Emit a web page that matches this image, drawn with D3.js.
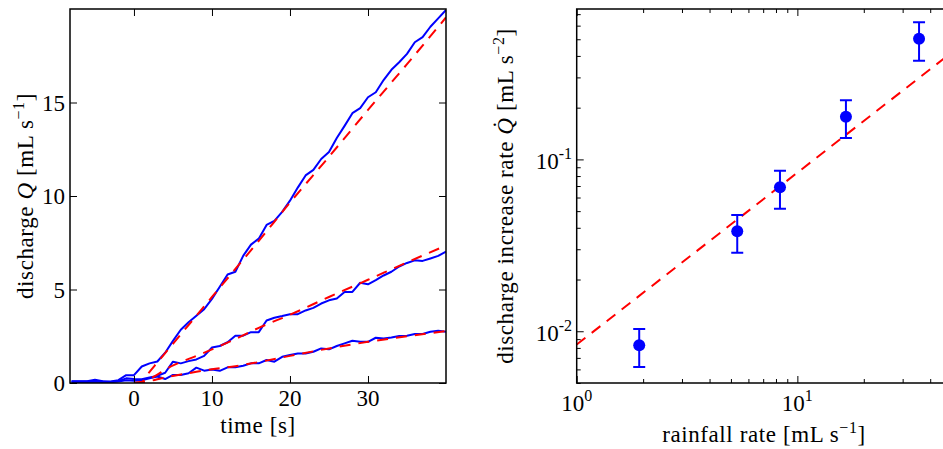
<!DOCTYPE html>
<html>
<head>
<meta charset="utf-8">
<script src="https://cdn.jsdelivr.net/npm/d3@7"></script>
<style>
  body { margin: 0; background: #fff; }
  text { font-family: "Liberation Serif", "Times New Roman", serif; fill: #000; }
  .title { letter-spacing: 0.6px; }
</style>
</head>
<body>
<script>
// ---- left panel data: discharge vs time (one sample per second)
var times = d3.range(-8, 41);
var qHigh = [0.1, 0.1, 0.1, 0.17, 0.1, 0.08, 0.15, 0.42, 0.42, 0.88, 1.05, 1.15, 1.62, 2.25, 2.85, 3.25, 3.6, 3.95,
  4.5, 5.15, 5.8, 5.95, 6.8, 7.4, 7.72, 8.45, 8.67, 9.15, 9.75, 10.45, 11.1, 11.4, 11.98, 12.35, 13.1, 13.75,
  14.43, 14.7, 15.28, 15.55, 16.2, 16.75, 17.15, 17.6, 18.22, 18.5, 19.05, 19.5, 19.95];
var qMid = [0.08, 0.08, 0.08, 0.1, 0.08, 0.05, 0.1, 0.25, 0.22, 0.2, 0.3, 0.38, 0.55, 1.14, 1.05, 1.17, 1.26, 1.45,
  1.9, 1.98, 2.18, 2.53, 2.53, 2.72, 2.72, 3.34, 3.49, 3.58, 3.68, 3.68, 3.88, 4.02, 4.25, 4.42, 4.52, 4.87,
  4.87, 5.36, 5.28, 5.5, 5.75, 5.95, 6.23, 6.42, 6.56, 6.53, 6.66, 6.8, 7.02];
var qLow = [0.05, 0.05, 0.06, 0.08, 0.05, 0.05, 0.08, 0.15, 0.12, 0.15, 0.25, 0.35, 0.21, 0.43, 0.43, 0.52, 0.82, 0.66,
  0.72, 0.65, 0.84, 0.84, 0.92, 1.05, 1.05, 1.23, 1.14, 1.4, 1.5, 1.58, 1.58, 1.67, 1.85, 1.8, 1.98, 2.12,
  2.26, 2.2, 2.2, 2.42, 2.38, 2.43, 2.51, 2.53, 2.62, 2.62, 2.74, 2.79, 2.74];

// fitted curves (red dashed)
var fitTimes = [0, 1, 2, 3, 4, 6, 8, 10, 13, 16, 20, 25, 30, 35, 40];
var fitHigh = [0, 0.05, 0.6, 1.1, 1.6, 2.6, 3.6, 4.6, 6.1, 7.6, 9.65, 12.1, 14.6, 17.05, 19.55];
var fitMid = [0, 0.05, 0.22, 0.45, 0.72, 1.12, 1.45, 1.8, 2.35, 2.95, 3.65, 4.6, 5.52, 6.45, 7.35];
var fitLow = [0, 0.02, 0.1, 0.2, 0.3, 0.45, 0.6, 0.73, 0.9, 1.12, 1.45, 1.85, 2.2, 2.5, 2.78];

var leftXTicks = [0, 10, 20, 30];
var leftYTicks = [0, 5, 10, 15];

// ---- right panel data: discharge increase rate vs rainfall rate
var rainRate = [1.92, 5.34, 8.34, 16.6, 35.6];
var incRate = [0.0083, 0.0382, 0.0688, 0.177, 0.503];
var incLow = [0.0062, 0.0286, 0.0517, 0.133, 0.375];
var incHigh = [0.0103, 0.0475, 0.0859, 0.221, 0.627];
var fitRain = [1, 50];
var fitRate = [0.00837, 0.4185];

var rightXTicks = [1, 10];
var rightYTicks = [0.01, 0.1];

var width = 943, height = 449;
var fontSize = 23, supSize = 16;
var tickLen = 7, minorLen = 4;

var svg = d3.select("body").append("svg")
  .attr("width", width)
  .attr("height", height);

var defs = svg.append("defs");

function ticksOnly(g, axis) {
  g.call(axis);
  g.select(".domain").remove();
  g.selectAll("text").remove();
  g.selectAll("line").attr("stroke", "#000").attr("stroke-width", 1);
}

// ================= left panel =================
var L = { left: 70, right: 446, top: 9, bottom: 383 };
var x = d3.scaleLinear().domain([-8.2, 40]).range([L.left, L.right]);
var y = d3.scaleLinear().domain([0, 20]).range([L.bottom, L.top]);

defs.append("clipPath").attr("id", "clipL").append("rect")
  .attr("x", L.left).attr("y", L.top)
  .attr("width", L.right - L.left).attr("height", L.bottom - L.top);

var gL = svg.append("g");
var plotL = gL.append("g").attr("clip-path", "url(#clipL)");

var line = d3.line()
  .x(function (d) { return x(d[0]); })
  .y(function (d) { return y(d[1]); });

[qHigh, qMid, qLow].forEach(function (s) {
  plotL.append("path")
    .datum(times.map(function (t, i) { return [t, s[i]]; }))
    .attr("fill", "none")
    .attr("stroke", "#0000ff")
    .attr("stroke-width", 2)
    .attr("stroke-linejoin", "round")
    .attr("d", line);
});

[fitHigh, fitMid, fitLow].forEach(function (s) {
  plotL.append("path")
    .datum(fitTimes.map(function (t, i) { return [t, s[i]]; }))
    .attr("fill", "none")
    .attr("stroke", "#ff0000")
    .attr("stroke-width", 2)
    .attr("stroke-dasharray", "11,8")
    .attr("d", line.curve(d3.curveMonotoneX));
});

ticksOnly(gL.append("g").attr("transform", "translate(0," + L.bottom + ")"),
  d3.axisBottom(x).tickValues(leftXTicks).tickSize(-tickLen));
ticksOnly(gL.append("g").attr("transform", "translate(0," + L.top + ")"),
  d3.axisTop(x).tickValues(leftXTicks).tickSize(-tickLen));
ticksOnly(gL.append("g").attr("transform", "translate(" + L.left + ",0)"),
  d3.axisLeft(y).tickValues(leftYTicks).tickSize(-tickLen));
ticksOnly(gL.append("g").attr("transform", "translate(" + L.right + ",0)"),
  d3.axisRight(y).tickValues(leftYTicks).tickSize(-tickLen));

gL.append("rect")
  .attr("x", L.left).attr("y", L.top)
  .attr("width", L.right - L.left).attr("height", L.bottom - L.top)
  .attr("fill", "none").attr("stroke", "#000").attr("stroke-width", 1.5);

gL.selectAll(".xlab").data(leftXTicks).enter().append("text")
  .attr("x", function (d) { return x(d); })
  .attr("y", 406)
  .attr("text-anchor", "middle")
  .attr("font-size", fontSize)
  .text(function (d) { return d; });

gL.selectAll(".ylab").data(leftYTicks).enter().append("text")
  .attr("x", 65)
  .attr("y", function (d) { return y(d) + 8; })
  .attr("text-anchor", "end")
  .attr("font-size", fontSize)
  .text(function (d) { return d; });

gL.append("text")
  .attr("class", "title")
  .attr("x", (L.left + L.right) / 2)
  .attr("y", 433)
  .attr("text-anchor", "middle")
  .attr("font-size", fontSize)
  .text("time [s]");

var yl = gL.append("text")
  .attr("class", "title")
  .attr("transform", "translate(33," + (L.top + L.bottom) / 2 + ") rotate(-90)")
  .attr("text-anchor", "middle")
  .attr("font-size", fontSize);
yl.append("tspan").text("discharge ");
yl.append("tspan").attr("font-style", "italic").text("Q");
yl.append("tspan").text(" [mL s");
yl.append("tspan").attr("font-size", supSize).attr("dy", -9).text("\u22121");
yl.append("tspan").attr("dy", 9).text("]");

// ================= right panel =================
var R = { left: 576.7, right: 951.6, top: 9, bottom: 383 };
var xr = d3.scaleLog().domain([1, 50]).range([R.left, R.right]);
var yr = d3.scaleLog().domain([0.005, 0.75]).range([R.bottom, R.top]);

defs.append("clipPath").attr("id", "clipR").append("rect")
  .attr("x", R.left).attr("y", R.top)
  .attr("width", R.right - R.left).attr("height", R.bottom - R.top);

var gR = svg.append("g");
var plotR = gR.append("g").attr("clip-path", "url(#clipR)");

var xMinor = xr.ticks().filter(function (d) { return rightXTicks.indexOf(d) < 0; });
var yMinor = yr.ticks().filter(function (d) { return rightYTicks.indexOf(d) < 0; });

ticksOnly(gR.append("g").attr("transform", "translate(0," + R.bottom + ")"),
  d3.axisBottom(xr).tickValues(rightXTicks).tickSize(-tickLen));
ticksOnly(gR.append("g").attr("transform", "translate(0," + R.bottom + ")"),
  d3.axisBottom(xr).tickValues(xMinor).tickSize(-minorLen));
ticksOnly(gR.append("g").attr("transform", "translate(0," + R.top + ")"),
  d3.axisTop(xr).tickValues(rightXTicks).tickSize(-tickLen));
ticksOnly(gR.append("g").attr("transform", "translate(0," + R.top + ")"),
  d3.axisTop(xr).tickValues(xMinor).tickSize(-minorLen));
ticksOnly(gR.append("g").attr("transform", "translate(" + R.left + ",0)"),
  d3.axisLeft(yr).tickValues(rightYTicks).tickSize(-tickLen));
ticksOnly(gR.append("g").attr("transform", "translate(" + R.left + ",0)"),
  d3.axisLeft(yr).tickValues(yMinor).tickSize(-minorLen));
ticksOnly(gR.append("g").attr("transform", "translate(" + R.right + ",0)"),
  d3.axisRight(yr).tickValues(rightYTicks).tickSize(-tickLen));
ticksOnly(gR.append("g").attr("transform", "translate(" + R.right + ",0)"),
  d3.axisRight(yr).tickValues(yMinor).tickSize(-minorLen));

plotR.append("path")
  .datum(fitRain.map(function (r, i) { return [r, fitRate[i]]; }))
  .attr("fill", "none")
  .attr("stroke", "#ff0000")
  .attr("stroke-width", 2)
  .attr("stroke-dasharray", "11,8")
  .attr("d", d3.line()
    .x(function (d) { return xr(d[0]); })
    .y(function (d) { return yr(d[1]); }));

var pts = rainRate.map(function (r, i) {
  return { r: r, q: incRate[i], lo: incLow[i], hi: incHigh[i] };
});

var eb = plotR.selectAll(".err").data(pts).enter().append("g")
  .attr("stroke", "#0000ff").attr("stroke-width", 2);
eb.append("line")
  .attr("x1", function (d) { return xr(d.r); })
  .attr("x2", function (d) { return xr(d.r); })
  .attr("y1", function (d) { return yr(d.lo); })
  .attr("y2", function (d) { return yr(d.hi); });
eb.append("line")
  .attr("x1", function (d) { return xr(d.r) - 6; })
  .attr("x2", function (d) { return xr(d.r) + 6; })
  .attr("y1", function (d) { return yr(d.lo); })
  .attr("y2", function (d) { return yr(d.lo); });
eb.append("line")
  .attr("x1", function (d) { return xr(d.r) - 6; })
  .attr("x2", function (d) { return xr(d.r) + 6; })
  .attr("y1", function (d) { return yr(d.hi); })
  .attr("y2", function (d) { return yr(d.hi); });

plotR.selectAll(".pt").data(pts).enter().append("circle")
  .attr("cx", function (d) { return xr(d.r); })
  .attr("cy", function (d) { return yr(d.q); })
  .attr("r", 6)
  .attr("fill", "#0000ff");

gR.append("rect")
  .attr("x", R.left).attr("y", R.top)
  .attr("width", R.right - R.left).attr("height", R.bottom - R.top)
  .attr("fill", "none").attr("stroke", "#000").attr("stroke-width", 1.5);

function powLabel(sel, exp) {
  sel.append("tspan").text("10");
  sel.append("tspan").attr("font-size", supSize).attr("dy", -10).text(exp);
}

gR.selectAll(".xlab").data(rightXTicks).enter().append("text")
  .attr("x", function (d) { return xr(d); })
  .attr("y", 411)
  .attr("text-anchor", "middle")
  .attr("font-size", fontSize)
  .each(function (d) { powLabel(d3.select(this), Math.round(Math.log10(d))); });

gR.selectAll(".ylab").data(rightYTicks).enter().append("text")
  .attr("x", 572)
  .attr("y", function (d) { return yr(d) + 10; })
  .attr("text-anchor", "end")
  .attr("font-size", fontSize)
  .each(function (d) { powLabel(d3.select(this), "-" + Math.round(-Math.log10(d))); });

var xl = gR.append("text")
  .attr("class", "title")
  .attr("x", 764)
  .attr("y", 442)
  .attr("text-anchor", "middle")
  .attr("font-size", fontSize);
xl.append("tspan").text("rainfall rate [mL s");
xl.append("tspan").attr("font-size", supSize).attr("dy", -9).text("\u22121");
xl.append("tspan").attr("dy", 9).text("]");

var yl2 = gR.append("text")
  .attr("class", "title")
  .attr("transform", "translate(513," + (R.top + R.bottom) / 2 + ") rotate(-90)")
  .attr("text-anchor", "middle")
  .attr("font-size", fontSize);
yl2.append("tspan").text("discharge increase rate ");
yl2.append("tspan").attr("font-style", "italic").text("Q\u0307");
yl2.append("tspan").text(" [mL s");
yl2.append("tspan").attr("font-size", supSize).attr("dy", -9).text("\u22122");
yl2.append("tspan").attr("dy", 9).text("]");
</script>
</body>
</html>
